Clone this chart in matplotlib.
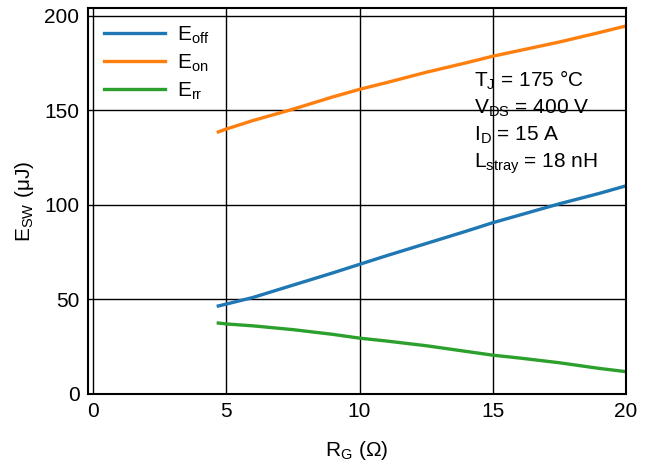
import numpy as np
import matplotlib.pyplot as plt

plt.rcParams['font.family'] = ['Liberation Sans', 'DejaVu Sans']

# gate resistance (ohm)
rg = [4.7, 5, 6, 7.5, 9, 10, 11, 12.5, 14, 15, 16, 17.5, 19, 20]
e_off = [46.5, 47.5, 51, 57.5, 64, 68.5, 73, 79.5, 86, 90.5, 94.5, 100.5, 106, 110]
e_on = [138.5, 140, 144.5, 150.5, 157, 161, 164.5, 170, 175, 178.5, 181.5, 186, 191, 194.5]
e_rr = [37.5, 37, 36, 34, 31.5, 29.5, 28, 25.5, 22.5, 20.5, 19, 16.5, 13.5, 11.8]

fig = plt.figure(figsize=(6.5, 4.69), dpi=100)
ax = fig.add_axes([0.135, 0.16, 0.828, 0.823])

ax.plot(rg, e_off, color='#1f77b4', lw=2.4, label='E$_{\\mathregular{off}}$')
ax.plot(rg, e_on, color='#ff7f0e', lw=2.4, label='E$_{\\mathregular{on}}$')
ax.plot(rg, e_rr, color='#2ca02c', lw=2.4, label='E$_{\\mathregular{rr}}$')

ax.set_xlim(-0.2, 20)
ax.set_ylim(0, 204)
ax.set_xticks([0, 5, 10, 15, 20])
ax.set_yticks([0, 50, 100, 150, 200])
ax.grid(True, color='black', lw=1)
ax.tick_params(labelsize=15, length=0, pad=6)
for s in ax.spines.values():
    s.set_linewidth(1.5)

ax.set_xlabel('R$_{\\mathregular{G}}$ (Ω)', fontsize=15, labelpad=13)
ax.set_ylabel('E$_{\\mathregular{SW}}$ (μJ)', fontsize=15, labelpad=6)

ax.legend(loc='upper left', frameon=False, fontsize=15, handlelength=2.9,
          labelspacing=0.3, borderaxespad=0.4, handletextpad=0.6)

ax.text(14.3, 172, 'T$_{\\mathregular{J}}$ = 175 °C\n'
        'V$_{\\mathregular{DS}}$ = 400 V\n'
        'I$_{\\mathregular{D}}$ = 15 A\n'
        'L$_{\\mathregular{stray}}$ = 18 nH',
        fontsize=15, va='top', ha='left', linespacing=1.33)

fig.savefig('out.png', dpi=100)
